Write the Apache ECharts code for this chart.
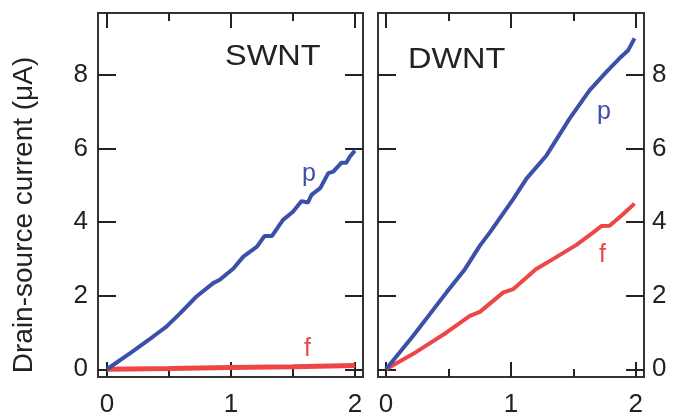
<!DOCTYPE html>
<html>
<head>
<meta charset="utf-8">
<script src="https://cdn.jsdelivr.net/npm/echarts@6/dist/echarts.min.js"></script>
<style>html,body{margin:0;padding:0;background:#fff}#c{width:674px;height:414px}</style>
</head>
<body>
<div id="c"></div>
<script>
// ---- data ----
var swntPX = [0, 0.185, 0.373, 0.48, 0.59, 0.72, 0.857, 0.91, 1.02, 1.10, 1.21, 1.27, 1.33, 1.42, 1.50, 1.57, 1.62, 1.65, 1.72, 1.785, 1.825, 1.89, 1.93, 1.96, 2.0];
var swntPY = [0, 0.43, 0.89, 1.16, 1.52, 1.97, 2.34, 2.43, 2.74, 3.06, 3.33, 3.62, 3.62, 4.06, 4.28, 4.57, 4.53, 4.74, 4.92, 5.33, 5.37, 5.61, 5.61, 5.78, 5.94];
var swntFX = [0, 0.5, 1.0, 1.5, 2.0];
var swntFY = [0, 0.02, 0.045, 0.07, 0.10];
var dwntPX = [0, 0.218, 0.485, 0.632, 0.752, 0.832, 1.02, 1.125, 1.285, 1.47, 1.63, 1.765, 1.87, 1.94, 1.99];
var dwntPY = [0, 0.91, 2.09, 2.72, 3.36, 3.72, 4.63, 5.18, 5.81, 6.81, 7.58, 8.08, 8.45, 8.67, 8.99];
var dwntFX = [0, 0.218, 0.485, 0.672, 0.752, 0.94, 1.02, 1.2, 1.34, 1.525, 1.66, 1.725, 1.79, 1.9, 1.99];
var dwntFY = [0, 0.42, 1.0, 1.45, 1.56, 2.09, 2.18, 2.72, 3.0, 3.38, 3.72, 3.89, 3.9, 4.22, 4.5];
var xMajorTicks = [0, 1, 2];
var xMinorTicks = [0.5, 1.5];
var yTicks = [0, 2, 4, 6, 8];
var panelNames = ['SWNT', 'DWNT'];
var yAxisTitle = 'Drain-source current (\u03bcA)';

function zip(xs, ys) { return xs.map(function (x, i) { return [x, ys[i]]; }); }

var FONT = '"Liberation Sans", Arial, Helvetica, sans-serif';
var INK = '#222';
var BLUE = '#3b50a8';
var RED = '#ee4646';

function xAxisDef(grid, pos, ticks, len, labels, min, max) {
  return {
    type: 'value', gridIndex: grid, position: pos, min: min, max: max,
    axisLine: { show: false, onZero: false },
    splitLine: { show: false },
    axisTick: { show: true, inside: true, length: len, customValues: ticks, lineStyle: { color: INK, width: 2 } },
    axisLabel: labels ? { show: true, customValues: ticks, margin: 15, fontSize: 26, color: INK, fontFamily: FONT } : { show: false }
  };
}
function yAxisDef(grid, pos, labels, margin) {
  return {
    type: 'value', gridIndex: grid, position: pos, min: -0.21, max: 9.68,
    axisLine: { show: false, onZero: false },
    splitLine: { show: false },
    axisTick: { show: true, inside: true, length: 18, customValues: yTicks, lineStyle: { color: INK, width: 2 } },
    axisLabel: labels ? { show: true, customValues: yTicks, margin: margin, fontSize: 26, color: INK, fontFamily: FONT } : { show: false }
  };
}

var L = { min: -0.072, max: 2.065 };
var R = { min: -0.064, max: 2.066 };

var option = {
  animation: false,
  backgroundColor: '#fff',
  grid: [
    { left: 98, top: 13, width: 265, height: 364, outerBoundsMode: 'none', containLabel: false, show: true, borderColor: '#333', borderWidth: 2, backgroundColor: 'transparent' },
    { left: 378, top: 13, width: 266, height: 364, outerBoundsMode: 'none', containLabel: false, show: true, borderColor: '#333', borderWidth: 2, backgroundColor: 'transparent' }
  ],
  xAxis: [
    xAxisDef(0, 'bottom', xMajorTicks, 15, true, L.min, L.max),
    xAxisDef(0, 'bottom', xMinorTicks, 8, false, L.min, L.max),
    xAxisDef(0, 'top', xMajorTicks, 15, false, L.min, L.max),
    xAxisDef(0, 'top', xMinorTicks, 8, false, L.min, L.max),
    xAxisDef(1, 'bottom', xMajorTicks, 15, true, R.min, R.max),
    xAxisDef(1, 'bottom', xMinorTicks, 8, false, R.min, R.max),
    xAxisDef(1, 'top', xMajorTicks, 15, false, R.min, R.max),
    xAxisDef(1, 'top', xMinorTicks, 8, false, R.min, R.max)
  ],
  yAxis: [
    yAxisDef(0, 'left', true, 10),
    yAxisDef(0, 'right', false, 8),
    yAxisDef(1, 'left', false, 8),
    yAxisDef(1, 'right', true, 8)
  ],
  series: [
    { type: 'line', xAxisIndex: 0, yAxisIndex: 0, data: zip(swntFX, swntFY), showSymbol: false, lineStyle: { color: RED, width: 5 }, z: 3 },
    { type: 'line', xAxisIndex: 0, yAxisIndex: 0, data: zip(swntPX, swntPY), showSymbol: false, lineStyle: { color: BLUE, width: 4 }, z: 4 },
    { type: 'line', xAxisIndex: 4, yAxisIndex: 2, data: zip(dwntFX, dwntFY), showSymbol: false, lineStyle: { color: RED, width: 4 }, z: 3 },
    { type: 'line', xAxisIndex: 4, yAxisIndex: 2, data: zip(dwntPX, dwntPY), showSymbol: false, lineStyle: { color: BLUE, width: 4 }, z: 4 }
  ],
  graphic: [
    { type: 'text', x: 24, y: 215, rotation: Math.PI / 2, style: { text: yAxisTitle, font: '28px ' + FONT, fill: INK, align: 'center', verticalAlign: 'middle' } },
    { type: 'text', x: 225, y: 57, scaleX: 1.12, style: { text: panelNames[0], font: '29px ' + FONT, fill: INK, align: 'left', verticalAlign: 'middle' } },
    { type: 'text', x: 408, y: 60, scaleX: 1.12, style: { text: panelNames[1], font: '29px ' + FONT, fill: INK, align: 'left', verticalAlign: 'middle' } },
    { type: 'text', x: 302, y: 174, style: { text: 'p', font: '25px ' + FONT, fill: BLUE, align: 'left', verticalAlign: 'middle' } },
    { type: 'text', x: 304, y: 349, style: { text: 'f', font: '25px ' + FONT, fill: RED, align: 'left', verticalAlign: 'middle' } },
    { type: 'text', x: 597, y: 112, style: { text: 'p', font: '25px ' + FONT, fill: BLUE, align: 'left', verticalAlign: 'middle' } },
    { type: 'text', x: 599, y: 255, style: { text: 'f', font: '25px ' + FONT, fill: RED, align: 'left', verticalAlign: 'middle' } }
  ]
};

var chart = echarts.init(document.getElementById('c'), null, { renderer: 'canvas' });
chart.setOption(option);
</script>
</body>
</html>
